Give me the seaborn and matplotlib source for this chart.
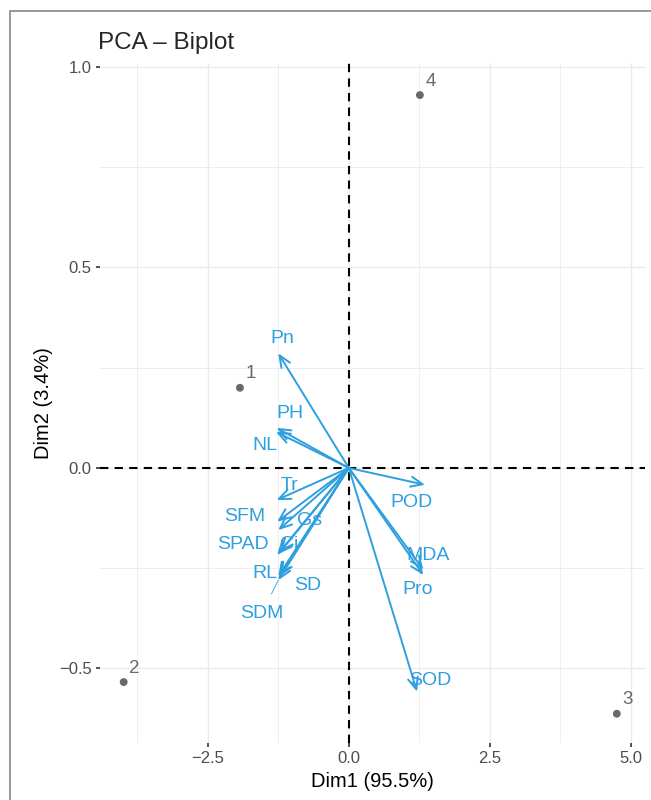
import numpy as np
import pandas as pd
import seaborn as sns
import matplotlib.pyplot as plt
from matplotlib.patches import Rectangle

# individuals (scores on Dim1 / Dim2)
ind_names = ['1', '2', '3', '4']
ind_dim1 = [-1.93, -3.99, 4.75, 1.26]
ind_dim2 = [0.20, -0.534, -0.613, 0.93]

# variables (arrow tips)
var_names = ['Pn', 'PH', 'NL', 'Tr', 'SFM', 'Gs', 'SPAD', 'Ci', 'RL', 'SD', 'SDM',
             'POD', 'MDA', 'Pro', 'SOD']
var_dim1 = [-1.25, -1.28, -1.29, -1.28, -1.27, -1.25, -1.27, -1.22, -1.25, -1.22, -1.25,
            1.35, 1.32, 1.32, 1.21]
var_dim2 = [0.286, 0.10, 0.09, -0.08, -0.134, -0.155, -0.217, -0.21, -0.27, -0.27, -0.28,
            -0.042, -0.254, -0.267, -0.558]

# where the (repelled) labels ended up
lab_dim1 = [-1.17, -1.05, -1.49, -1.05, -1.84, -0.69, -1.88, -1.05, -1.49, -0.73, -1.54,
            1.12, 1.40, 1.22, 1.44]
lab_dim2 = [0.324, 0.137, 0.057, -0.045, -0.122, -0.13, -0.192, -0.192, -0.262, -0.292, -0.362,
            -0.087, -0.219, -0.304, -0.529]

var_col = '#2E9FDF'
ind_col = '#696969'

sns.set_theme(style='whitegrid')
plt.rcParams['font.family'] = ['Liberation Sans', 'DejaVu Sans']

ind = pd.DataFrame({'Dim1': ind_dim1, 'Dim2': ind_dim2, 'name': ind_names})

fig = plt.figure(figsize=(6.51, 8), dpi=100)
ax = fig.add_axes([100/651, 57/800, 545/651, 680/800])

ax.set_xlim(-4.41, 5.25)
ax.set_ylim(-0.686, 1.010)
ax.set_xticks([-2.5, 0, 2.5, 5.0])
ax.set_xticklabels(['\u22122.5', '0.0', '2.5', '5.0'])
ax.set_yticks([-0.5, 0, 0.5, 1.0])
ax.set_yticklabels(['\u22120.5', '0.0', '0.5', '1.0'])
ax.set_xticks([-3.75, -1.25, 1.25, 3.75], minor=True)
ax.set_yticks([-0.25, 0.25, 0.75], minor=True)
ax.grid(which='major', color='#EBEBEB', lw=1.0)
ax.grid(which='minor', color='#EBEBEB', lw=0.6)
for s in ax.spines.values():
    s.set_visible(False)
ax.tick_params(which='major', length=3, width=1.2, color='#333333', labelcolor='#4D4D4D',
               labelsize=12, pad=3, bottom=True, left=True)
ax.tick_params(which='minor', length=0)

ax.axhline(0, color='black', lw=1.5, ls=(0, (4, 3)), zorder=1)
ax.axvline(0, color='black', lw=1.5, ls=(0, (4, 3)), zorder=1)

sns.scatterplot(data=ind, x='Dim1', y='Dim2', color=ind_col, s=32, edgecolor='none',
                ax=ax, zorder=3)
for n, x, y in zip(ind_names, ind_dim1, ind_dim2):
    ax.annotate(n, (x, y), xytext=(4, 4), textcoords='offset points', color=ind_col,
                fontsize=13.5, ha='left', va='bottom')

for x, y in zip(var_dim1, var_dim2):
    ax.annotate('', xy=(x, y), xytext=(0, 0),
                arrowprops=dict(arrowstyle='->,head_length=0.7,head_width=0.3',
                                color=var_col, lw=1.4, shrinkA=0, shrinkB=0), zorder=2)

for n, x, y, lx, ly in zip(var_names, var_dim1, var_dim2, lab_dim1, lab_dim2):
    if n == 'SDM':
        ax.annotate(n, xy=(x, y), xytext=(lx, ly), color=var_col, fontsize=14,
                    ha='center', va='center',
                    arrowprops=dict(arrowstyle='-', color=var_col, lw=0.6,
                                    shrinkA=6, shrinkB=0))
    else:
        ax.text(lx, ly, n, color=var_col, fontsize=14, ha='center', va='center', zorder=4)

ax.set_xlabel('Dim1 (95.5%)', fontsize=14.5, color='black', labelpad=4)
ax.set_ylabel('Dim2 (3.4%)', fontsize=14.5, color='black', labelpad=4)
ax.set_title('PCA \u2013 Biplot', loc='left', fontsize=17.5, pad=10, x=-0.003)

# outer frame of the picture
fig.patches.append(Rectangle((10/651, -0.05), 1.1, (800 - 11)/800 + 0.05,
                             transform=fig.transFigure, fill=False, ec='#888888', lw=1.2))

fig.savefig('out.png', dpi=100)
